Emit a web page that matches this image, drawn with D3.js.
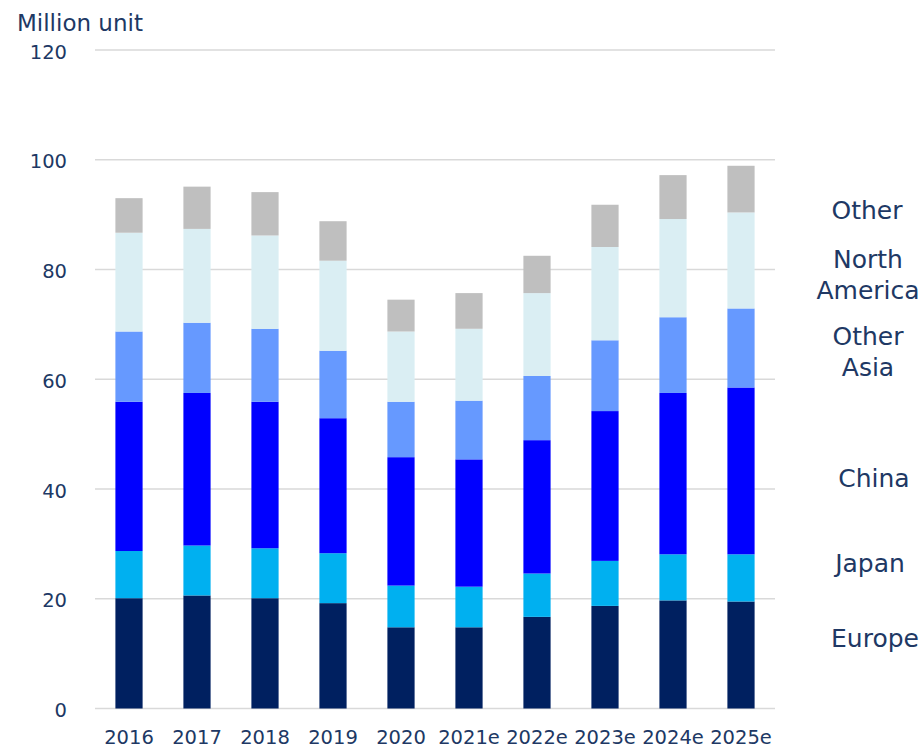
<!DOCTYPE html>
<html>
<head>
<meta charset="utf-8">
<script src="https://cdn.jsdelivr.net/npm/d3@7"></script>
<style>
  html, body { margin: 0; padding: 0; background: #fff; }
  svg { display: block; font-family: "DejaVu Sans", Verdana, sans-serif; }
</style>
</head>
<body>
<svg id="chart" width="924" height="749"></svg>
<script>
// Unit sales by region (million units)
const years = ["2016", "2017", "2018", "2019", "2020", "2021e", "2022e", "2023e", "2024e", "2025e"];
const regions = ["Europe", "Japan", "China", "Other Asia", "North America", "Other"];

const europe       = [20.1, 20.6, 20.1, 19.2, 14.8, 14.8, 16.7, 18.7, 19.7, 19.5];
const japan        = [ 8.6,  9.1,  9.1,  9.1,  7.6,  7.4,  7.9,  8.2,  8.4,  8.6];
const china        = [27.2, 27.8, 26.7, 24.6, 23.4, 23.2, 24.3, 27.3, 29.4, 30.4];
const otherAsia    = [12.8, 12.8, 13.3, 12.3, 10.1, 10.7, 11.7, 12.9, 13.8, 14.4];
const northAmerica = [18.0, 17.1, 17.0, 16.4, 12.8, 13.1, 15.1, 17.0, 17.9, 17.5];
const other        = [ 6.3,  7.7,  7.9,  7.2,  5.8,  6.5,  6.8,  7.7,  8.0,  8.5];

const yTicks = [0, 20, 40, 60, 80, 100, 120];

const seriesValues = [europe, japan, china, otherAsia, northAmerica, other];
const colors = ["#002060", "#00B0F0", "#0000FF", "#6699FF", "#DAEEF3", "#BFBFBF"];
const textColor = "#203864";

// Rows for d3.stack
const rows = years.map((y, i) => {
  const r = { year: y };
  regions.forEach((name, k) => { r[name] = seriesValues[k][i]; });
  return r;
});

const svg = d3.select("#chart");
const plot = { left: 95, right: 775, top: 50, bottom: 708.5 };

const x = d3.scaleBand()
  .domain(years)
  .range([plot.left, plot.right])
  .paddingInner(0.6)
  .paddingOuter(0.3);

const y = d3.scaleLinear()
  .domain([0, 120])
  .range([plot.bottom, plot.top]);

// Horizontal gridlines
svg.append("g")
  .selectAll("line")
  .data(yTicks)
  .join("line")
  .attr("x1", plot.left)
  .attr("x2", plot.right)
  .attr("y1", d => y(d))
  .attr("y2", d => y(d))
  .attr("stroke", "#D9D9D9")
  .attr("stroke-width", 1.6);

// Y axis labels
const yAxis = svg.append("g")
  .attr("transform", `translate(${plot.left - 28},0)`)
  .call(d3.axisLeft(y).tickValues(yTicks).tickSize(0).tickPadding(0));
yAxis.select(".domain").remove();
yAxis.selectAll("text")
  .attr("fill", textColor)
  .attr("font-size", 19.5)
  .attr("font-family", "DejaVu Sans, Verdana, sans-serif")
  .attr("dy", "0.42em");

// Stacked bars
const stacked = d3.stack().keys(regions)(rows);

svg.append("g")
  .selectAll("g")
  .data(stacked)
  .join("g")
  .attr("fill", (d, i) => colors[i])
  .selectAll("rect")
  .data(d => d)
  .join("rect")
  .attr("x", d => x(d.data.year))
  .attr("width", x.bandwidth())
  .attr("y", d => y(d[1]))
  .attr("height", d => y(d[0]) - y(d[1]));

// X axis labels
const xAxis = svg.append("g")
  .attr("transform", `translate(0,${plot.bottom + 21})`)
  .call(d3.axisBottom(x).tickSize(0).tickPadding(0));
xAxis.select(".domain").remove();
xAxis.selectAll("text")
  .attr("fill", textColor)
  .attr("font-size", 19.5)
  .attr("font-family", "DejaVu Sans, Verdana, sans-serif")
  .attr("dy", "0.72em");

// Unit title
svg.append("text")
  .attr("x", 17)
  .attr("y", 31)
  .attr("fill", textColor)
  .attr("font-size", 23)
  .text("Million unit");

// Series labels on the right, stacked in the same order as the bars
const legendLines = [
  { lines: ["Other"], x: 867, y: 219 },
  { lines: ["North", "America"], x: 868, y: 268 },
  { lines: ["Other", "Asia"], x: 868, y: 345 },
  { lines: ["China"], x: 874, y: 487 },
  { lines: ["Japan"], x: 870, y: 572 },
  { lines: ["Europe"], x: 875, y: 647 }
];

const legend = svg.append("g")
  .attr("fill", textColor)
  .attr("font-size", 25)
  .attr("text-anchor", "middle");

legendLines.forEach(item => {
  const t = legend.append("text").attr("x", item.x).attr("y", item.y);
  item.lines.forEach((line, i) => {
    t.append("tspan")
      .attr("x", item.x)
      .attr("dy", i === 0 ? 0 : 31)
      .text(line);
  });
});
</script>
</body>
</html>
